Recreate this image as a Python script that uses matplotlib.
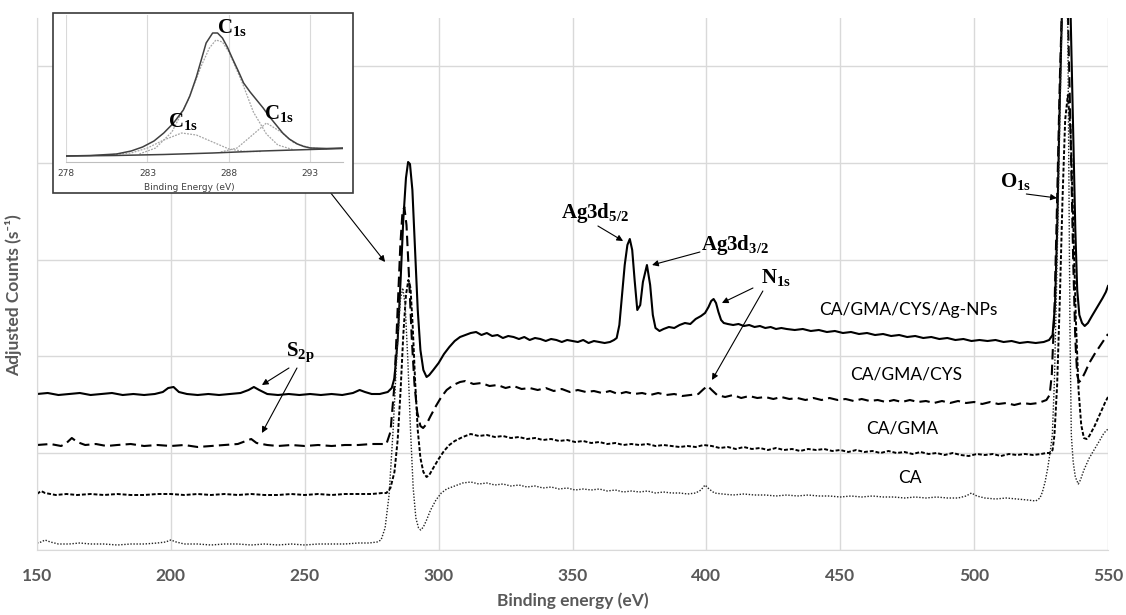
import matplotlib
matplotlib.use('Agg')
import matplotlib.pyplot as plt
from matplotlib.patches import Rectangle

plt.rcParams['mathtext.fontset'] = 'custom'
plt.rcParams['mathtext.rm'] = 'Liberation Serif:bold'
plt.rcParams['mathtext.bf'] = 'Liberation Serif:bold'
plt.rcParams['mathtext.it'] = 'Liberation Serif:bold'

# ---------------- data (binding energy eV, adjusted counts, arbitrary units) -------------
ag_nps = [(150,156),(154,157),(158,155),(162,156),(166,157),(170,155),(174,156),(178,157),(182,155),
          (186,156),(190,155),(194,156),(197,158),(199,162),(201,163),(203,158),(206,156),(210,155),
          (214,156),(218,155),(222,156),(226,157),(229,160),(231,163),(233,160),(236,156),(240,155),
          (244,156),(248,155),(252,156),(256,155),(260,156),(264,155),(268,157),(270.5,160),(272.5,158),
          (275,156),(278,156),(281,158),(282.5,162),(283.5,172),(284.7,210),(285.8,270),(286.8,330),
          (287.8,372),(288.6,388),(289.3,386),(290.2,360),(291.2,300),(292.2,240),(293.2,200),(294.3,180),
          (295.5,173),(296.5,175),(298,180),(300,187),(302,196),(304,203),(306,209),(308,213),(310,215),
          (312,217),(314,218),(316,215),(318,217),(320,214),(322,215),(324,212),(326,214),(328,213),
          (330,211),(332,213),(334,210),(336,212),(338,211),(340,209),(342,211),(344,210),(346,208),
          (348,210),(350,209),(352,208),(354,210),(356,207),(358,209),(360,208),(362,207),(364,208),
          (365.5,210),(366.5,212),(367.5,225),(368.5,255),(369.5,285),(370.5,305),(371.4,311),(372.3,300),
          (373.2,270),(374.2,240),(375.3,245),(376.3,268),(377.8,285),(379,265),(380,235),(381,222),
          (382.5,219),(384,221),(386,223),(388,222),(390,225),(392,227),(394,226),(396,231),(398,234),
          (399.5,237),(400.8,243),(401.8,249),(402.7,251),(403.6,247),(404.5,238),(405.5,230),(406.5,227),
          (408,226),(410,225),(412,226),(414,224),(416,225),(418,223),(420,224),(422,222),(424,223),
          (426,221),(428,222),(430,221),(433,220),(436,221),(439,219),(442,220),(445,218),(448,219),
          (451,217),(454,218),(457,216),(460,217),(463,215),(466,216),(469,214),(472,215),(475,213),
          (478,214),(481,212),(484,213),(487,211),(490,212),(493,210),(496,211),(499,209),(502,210),
          (505,209),(508,210),(511,208),(514,209),(517,207),(520,208),(523,207),(526,208),(528,210),
          (529.3,215),(530.2,245),(531,320),(532,450),(533,560),(534,620),(535,610),(536,540),(537,420),
          (537.8,320),(538.5,260),(539.3,235),(540.3,227),(541.3,224),(542.5,227),(544,234),(546,243),
          (548,252),(549.2,258),(550,264)]

gma_cys = [(150,105),(155,106),(159,104),(161,107),(163,112),(165,108),(168,105),(172,106),(176,104),
           (180,105),(185,106),(190,104),(195,105),(200,104),(205,105),(210,103),(215,104),(220,105),
           (225,106),(228,109),(230,111),(232,107),(236,105),(240,104),(245,105),(250,104),(255,105),
           (260,104),(265,105),(270,105),(275,106),(279,106),(280.5,106),(282,118),(283.5,165),(284.7,240),
           (285.7,305),(286.5,338),(287.2,343),(288,325),(289,270),(290,210),(291,165),(292,138),
           (293.2,124),(294.2,122),(295.5,126),(297,134),(299,144),(301,153),(303,160),(305.5,165),
           (308,168),(310,169),(313,166),(316,167),(319,164),(322,165),(325,162),(328,164),(331,161),
           (334,162),(337,160),(340,162),(343,159),(346,161),(349,158),(352,160),(355,158),(358,159),
           (361,157),(364,159),(367,156),(370,158),(373,156),(376,157),(379,155),(382,157),(385,155),
           (388,156),(391,154),(394,155),(397,156),(399,161),(400.5,164),(402,160),(404,155),(407,153),
           (410,155),(413,152),(416,154),(419,152),(422,153),(425,151),(428,153),(431,151),(434,152),
           (437,150),(440,152),(443,150),(446,152),(449,150),(452,151),(455,149),(458,151),(461,149),
           (464,150),(467,148),(470,150),(473,148),(476,150),(479,148),(482,149),(485,147),(488,149),
           (491,147),(494,149),(497,147),(500,148),(503,146),(506,148),(509,146),(512,147),(515,145),
           (518,147),(521,146),(524,147),(527,150),(528.2,155),(529,175),(530,240),(531,350),(532,470),
           (533,560),(534,590),(535,540),(536,420),(537,290),(537.8,210),(538.5,175),(539.2,168),
           (540,170),(541.5,178),(543,187),(545,196),(547,204),(548.5,210),(550,216)]

gma = [(150,56),(151.5,59),(153,57),(157,55),(161,56),(165,55),(170,56),(175,55),(180,56),(185,55),
       (190,55),(195,56),(200,56),(205,55),(210,56),(215,55),(220,56),(225,55),(230,56),(235,55),
       (240,55),(245,56),(250,55),(255,56),(260,55),(265,56),(270,56),(275,56),(279,57),(280.5,57),
       (282,62),(283.5,78),(284.7,110),(285.8,160),(286.8,215),(287.8,255),(288.7,270),(289.5,262),
       (290.3,225),(291.2,170),(292.2,120),(293.2,92),(294.3,78),(295.5,73),(296.5,75),(298,82),
       (300,91),(302,99),(304,105),(306,109),(309,113),(312,116),(315,114),(318,115),(321,113),
       (324,114),(327,112),(330,113),(333,111),(336,112),(339,110),(342,111),(345,109),(348,110),
       (351,108),(354,109),(357,107),(360,108),(363,106),(366,107),(369,105),(372,106),(375,105),
       (378,106),(381,104),(384,105),(387,104),(390,103),(393,104),(396,103),(399,105),(402,104),
       (405,102),(408,103),(411,101),(414,103),(417,101),(420,102),(423,100),(426,102),(429,100),
       (432,101),(435,99),(438,101),(441,100),(444,101),(447,99),(450,100),(453,98),(456,100),
       (459,98),(462,99),(465,97),(468,99),(471,97),(474,98),(477,96),(480,98),(483,96),(486,97),
       (489,95),(492,97),(495,95),(498,94),(501,96),(504,95),(507,96),(510,94),(513,96),(516,95),
       (519,96),(522,95),(525,96),(527,97),(528.5,97),(529.3,100),(530,115),(531,165),(532,250),
       (533,350),(534,430),(535,455),(536,420),(537,330),(538,230),(539,160),(540,125),(541,112),
       (542,111),(543,114),(545,124),(547,136),(549,148),(550,153)]

ca = [(150,7),(151.5,8),(153,10),(155,8),(158,6),(162,6),(166,7),(170,6),(175,6),(180,5),(185,6),
      (190,6),(195,7),(198,8),(200,10),(202,8),(205,6),(210,6),(215,5),(220,6),(225,6),(230,5),
      (235,6),(240,5),(245,6),(250,5),(255,6),(260,6),(265,6),(270,7),(274,7),(277,8),(278.5,10),
      (280,22),(281.5,55),(283,120),(284.5,200),(285.7,250),(286.6,262),(287.5,245),(288.5,190),
      (289.5,120),(290.5,62),(291.5,32),(292.5,22),(293.3,20),(294.3,23),(295.5,30),(297,40),
      (299,50),(301,57),(303,61),(306,64),(309,67),(312,68),(315,66),(318,67),(321,65),(324,66),
      (327,64),(330,65),(333,63),(336,64),(339,62),(342,63),(345,61),(348,62),(351,60),(354,61),
      (357,60),(360,61),(363,59),(366,60),(369,58),(372,59),(375,58),(378,59),(381,57),(384,58),
      (387,57),(390,57),(393,56),(396,57),(398,60),(399.5,65),(401,61),(403,57),(406,56),(410,55),
      (414,56),(418,55),(422,55),(426,54),(430,55),(434,54),(438,55),(442,54),(446,54),(450,53),
      (454,54),(458,53),(462,54),(466,53),(470,53),(474,52),(478,53),(482,52),(486,53),(490,52),
      (494,52),(497,54),(499,57),(501,54),(504,52),(508,51),(512,52),(516,51),(520,50),(523,49),
      (524.6,52),(525.5,58),(526.5,68),(527.5,82),(528.5,100),(529.2,115),(530,170),(531,290),
      (532,430),(533,560),(534,600),(535,520),(535.8,220),(536.3,115),(537,88),(537.8,73),
      (538.9,66),(539.7,70),(541,80),(543,92),(545,101),(547,110),(548.5,117),(550,121)]

series_labels = ['CA/GMA/CYS/Ag-NPs', 'CA/GMA/CYS', 'CA/GMA', 'CA']
x_ticks = [150, 200, 250, 300, 350, 400, 450, 500, 550]

# inset: C1s high-resolution fit
inset_envelope = [(278,6),(279.5,6.5),(281.1,8),(282,11),(282.7,15),(283.4,21),(284,29),(284.6,39),
                  (285.2,52),(285.6,66),(286,85),(286.3,102),(286.6,119),(287,129),(287.3,129),
                  (287.6,124),(287.9,115),(288.2,104),(288.6,90),(288.9,79),(289.3,70),(289.7,62),
                  (290.1,54),(290.5,45),(290.9,37),(291.3,29),(291.7,23),(292.2,18),(292.6,15.5),
                  (293,14),(294,13.5),(295,14)]
inset_baseline = [(278,6),(281,6.5),(284,7.5),(287,9),(290,11),(293,12.5),(295,13.5)]
inset_main = [(282.5,8),(283.5,14),(284.5,30),(285.5,62),(286.3,96),(286.8,114),(287.2,122),
              (287.6,120),(288,110),(288.8,80),(289.5,50),(290.3,28),(291,17),(292,12)]
inset_left = [(280.5,7),(282,9),(283,14),(284,22),(285.1,29),(286,27),(287,20),(288,13),(289,10.5),(290,10.5)]
inset_right = [(287.5,10),(288.5,14),(289.3,25),(290.3,39),(291.2,30),(292,19),(293,14),(294,13)]
inset_ticks = [278, 283, 288, 293]

# ---------------- figure ----------------
W, H = 1126, 615
fig = plt.figure(figsize=(W / 100, H / 100), dpi=100, facecolor='white')
ax = fig.add_axes([37 / W, 65 / H, 1071 / W, 532 / H])

styles = [dict(color='black', lw=1.5, ls='-'),
          dict(color='black', lw=1.5, ls=(0, (5, 2.5))),
          dict(color='black', lw=1.4, ls=(0, (2, 1))),
          dict(color='#222222', lw=1.0, ls=(0, (1, 1.2)))]
for pts, st in zip([ag_nps, gma_cys, gma, ca], styles):
    e, c = zip(*pts)
    ax.plot(e, c, **st)

ax.set_xlim(150, 550)
ax.set_ylim(0, 532)
ax.set_xticks(x_ticks)
ax.set_yticks([96.8 * i for i in range(6)])
ax.grid(True, color='#d9d9d9', lw=1.0)
ax.set_axisbelow(True)
ax.tick_params(length=0, labelleft=False, pad=13)
for lab in ax.get_xticklabels():
    lab.set_fontfamily('Lato')
    lab.set_fontweight('bold')
    lab.set_fontsize(12.5)
    lab.set_color('#595959')
for s in ['top', 'right']:
    ax.spines[s].set_visible(False)
for s in ['left', 'bottom']:
    ax.spines[s].set_color('#d9d9d9')
ax.set_xlabel('Binding energy (eV)', family=['Lato', 'DejaVu Sans'], fontweight='bold',
              fontsize=12.5, color='#595959', labelpad=6)
ax.set_ylabel('Adjusted Counts (s\u207b\u00b9)', family=['Lato', 'DejaVu Sans'], fontweight='bold',
              fontsize=12.5, color='#595959')
ax.yaxis.set_label_coords(-15 / 1071, (550 - 295) / 532)

# series labels
lab_pos = [(475.3, 240), (474.6, 175), (473.1, 122), (476.0, 72)]
for t, (x, y) in zip(series_labels, lab_pos):
    ax.text(x, y, t, ha='center', va='center', fontsize=12.5, family='Lato', color='black')

ap = dict(arrowstyle='-|>', color='black', lw=0.8, mutation_scale=9, shrinkA=0, shrinkB=0)
fs_ann = 15
ax.text(248.2, 198, r'$\mathrm{S}_{\mathrm{2p}}$', ha='center', va='center', fontsize=fs_ann)
ax.annotate('', xy=(234, 165), xytext=(244.1, 182), arrowprops=ap)
ax.annotate('', xy=(234, 117), xytext=(247.1, 182), arrowprops=ap)

ax.text(358.4, 337, r'$\mathrm{Ag3d}_{\mathrm{5/2}}$', ha='center', va='center', fontsize=fs_ann)
ax.annotate('', xy=(368.9, 309), xytext=(359.5, 324), arrowprops=ap)

ax.text(410.7, 305, r'$\mathrm{Ag3d}_{\mathrm{3/2}}$', ha='center', va='center', fontsize=fs_ann)
ax.annotate('', xy=(379.7, 285), xytext=(397.6, 298), arrowprops=ap)

ax.text(426.0, 272, r'$\mathrm{N}_{\mathrm{1s}}$', ha='center', va='center', fontsize=fs_ann)
ax.annotate('', xy=(405.8, 247), xytext=(417.4, 262), arrowprops=ap)
ax.annotate('', xy=(402.1, 170), xytext=(421.1, 259), arrowprops=ap)

ax.text(515.3, 368, r'$\mathrm{O}_{\mathrm{1s}}$', ha='center', va='center', fontsize=fs_ann)
ax.annotate('', xy=(530.9, 352), xytext=(519.5, 356), arrowprops=ap)

# arrow from inset to C1s peak
ax.annotate('', xy=(280.0, 288), xycoords='data', xytext=(330 / W, 1 - 192 / H),
            textcoords='figure fraction', arrowprops=ap, annotation_clip=False)

# ---------------- inset ----------------
fig.add_artist(Rectangle((53 / W, 1 - 193 / H), 300 / W, 180 / H, transform=fig.transFigure,
                         facecolor='white', edgecolor='#3a3a3a', lw=1.2, zorder=2))
iax = fig.add_axes([66 / W, 1 - 162 / H, 277 / W, 147 / H], zorder=3)
iax.patch.set_alpha(0)
for pts, st in [(inset_main, dict(color='#a6a6a6', lw=0.9, ls=(0, (1.5, 1)))),
                (inset_left, dict(color='#a6a6a6', lw=0.9, ls=(0, (1.5, 1)))),
                (inset_right, dict(color='#a6a6a6', lw=0.9, ls=(0, (1.5, 1)))),
                (inset_baseline, dict(color='#404040', lw=1.1, ls='-')),
                (inset_envelope, dict(color='#404040', lw=1.1, ls='-'))]:
    e, c = zip(*pts)
    iax.plot(e, c, **st)
iax.set_xlim(278, 295)
iax.set_ylim(0, 147)
iax.set_xticks(inset_ticks)
iax.set_yticks([])
iax.grid(True, axis='x', color='#d9d9d9', lw=0.8)
iax.tick_params(length=0, labelsize=6.5, labelcolor='#404040', pad=5)
for s in ['top', 'right', 'left']:
    iax.spines[s].set_visible(False)
iax.spines['bottom'].set_color('#bfbfbf')
iax.set_xlabel('Binding Energy (eV)', fontsize=6.5, color='#404040')
iax.xaxis.set_label_coords((189 - 66) / 277, -21 / 147)
iax.text(288.2, 135, r'$\mathrm{C}_{\mathrm{1s}}$', ha='center', va='center', fontsize=fs_ann)
iax.text(285.2, 41, r'$\mathrm{C}_{\mathrm{1s}}$', ha='center', va='center', fontsize=fs_ann)
iax.text(291.1, 49, r'$\mathrm{C}_{\mathrm{1s}}$', ha='center', va='center', fontsize=fs_ann)

fig.savefig('out.png', dpi=100, facecolor='white')
